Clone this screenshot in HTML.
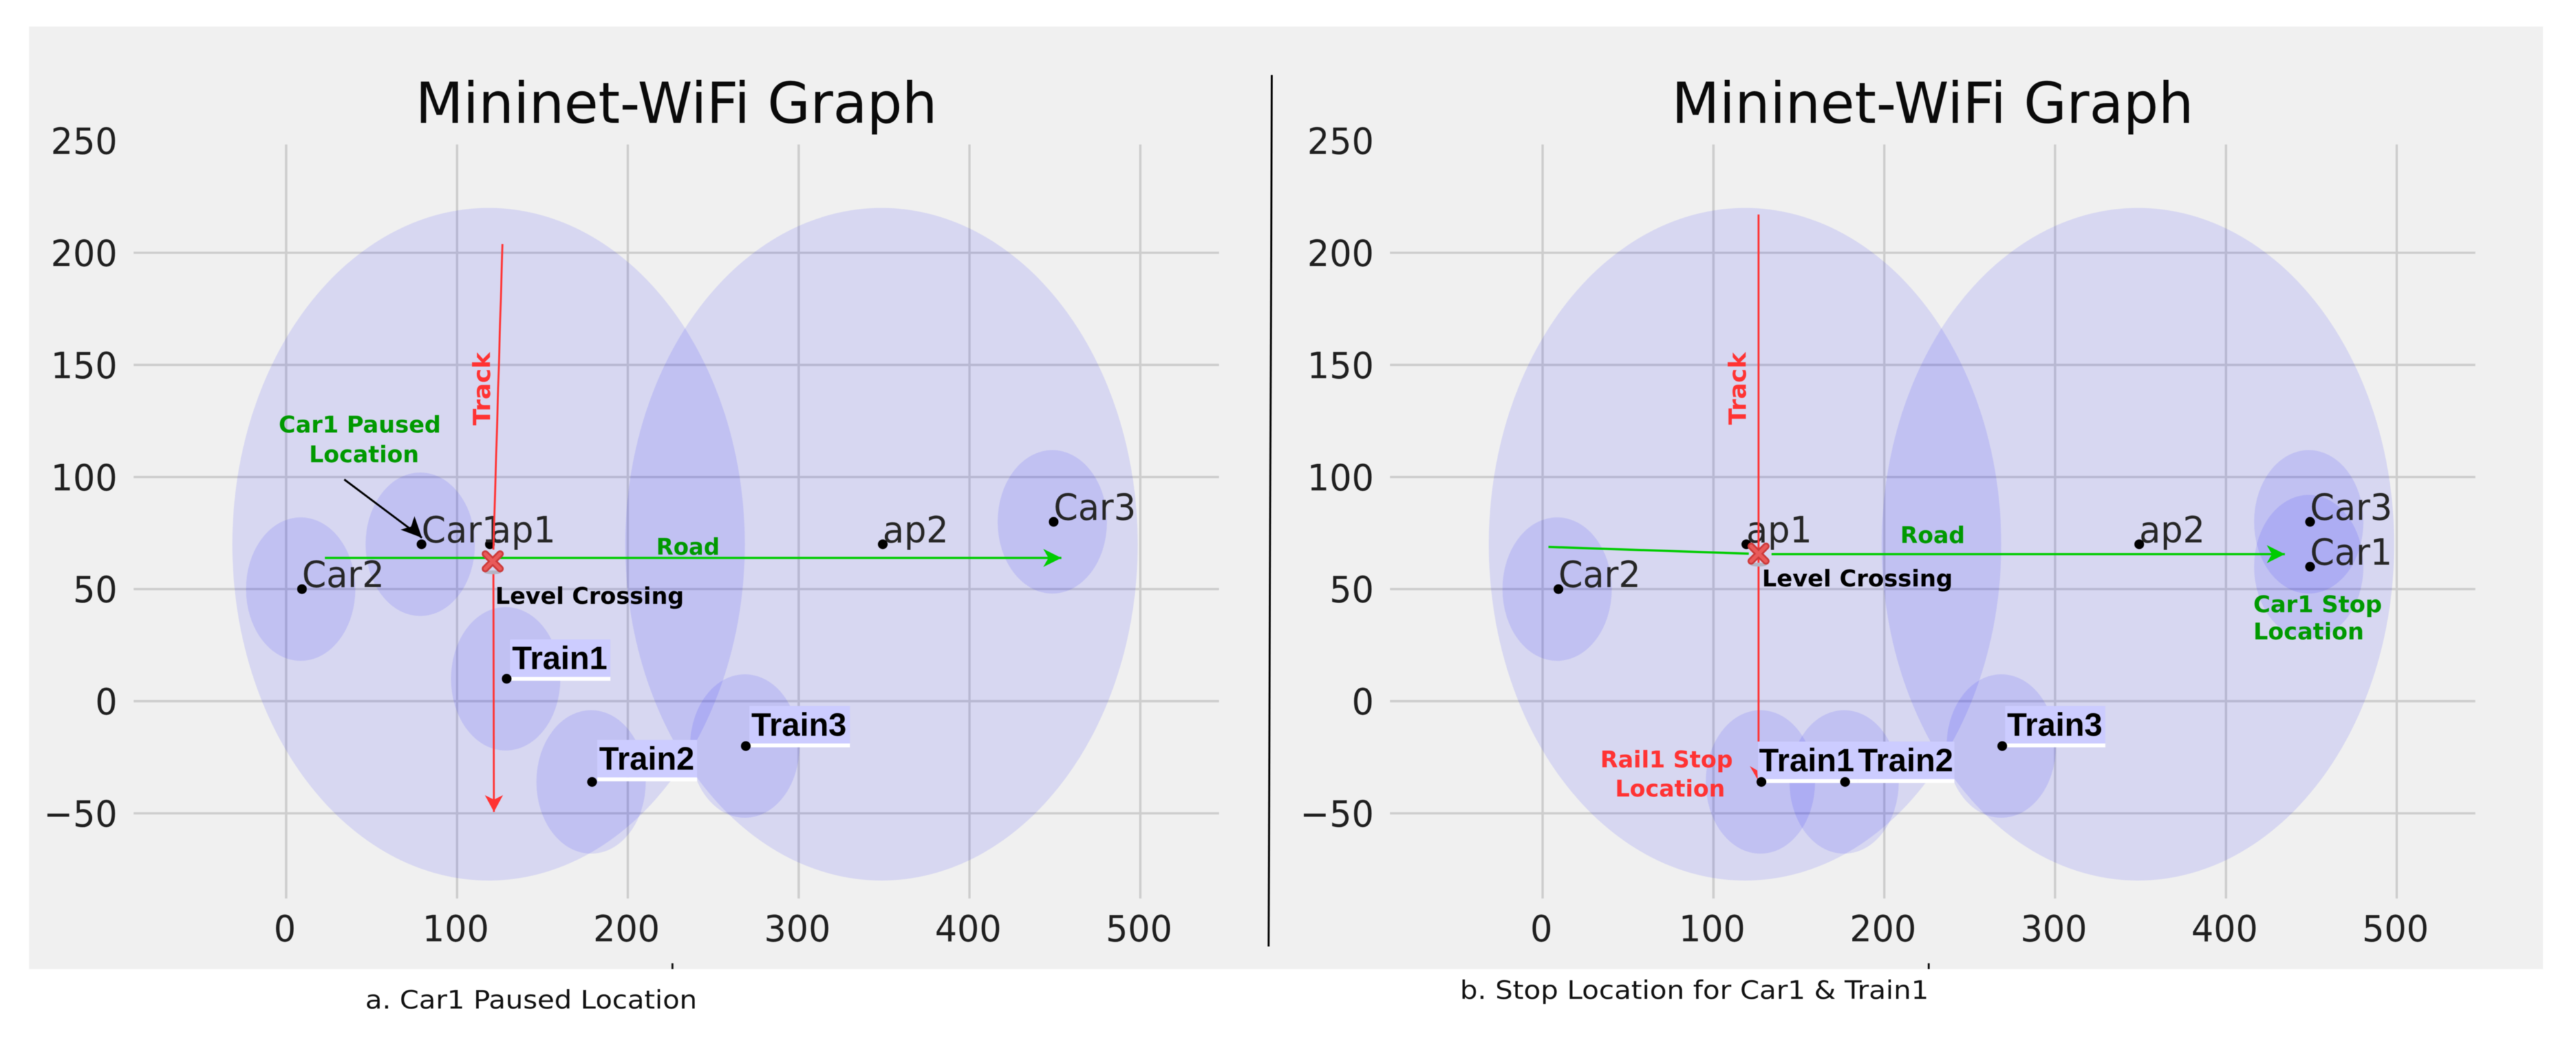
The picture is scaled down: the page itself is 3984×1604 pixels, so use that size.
<!DOCTYPE html>
<html lang="en">
<head>
<meta charset="utf-8">
<title>Mininet-WiFi Graph comparison</title>
<style>
html,body{margin:0;padding:0;background:#fff;width:3984px;height:1604px;overflow:hidden}
svg{display:block;filter:blur(.6px)}
text{font-family:"DejaVu Sans","Liberation Sans",sans-serif}
.ann{font-weight:700;font-size:35.6px}
.green{fill:#009900}
.red{fill:#ff3333}
.blk{fill:#000}
.title{font-size:87px;fill:#0a0a0a;text-anchor:middle}
.cap{font-size:39px;fill:#111}
</style>
</head>
<body>
<svg id="figure" xmlns="http://www.w3.org/2000/svg" width="3984" height="1604" viewBox="0 0 3984 1604">
  <rect x="0" y="0" width="3984" height="1604" fill="#ffffff"/>
  <rect x="45" y="41" width="3888" height="1458" fill="#f0f0f0"/>
  <g id="left-layer"></g>
  <g id="right-layer"></g>

  <g>
    <text class="title" x="1046" y="190" textLength="807" lengthAdjust="spacingAndGlyphs">Mininet-WiFi Graph</text>
    <text class="ann red" style="font-size:36.5px" transform="translate(758 658) rotate(-90)" textLength="113" lengthAdjust="spacingAndGlyphs">Track</text>
    <text class="ann green" x="1015" y="858" textLength="98" lengthAdjust="spacingAndGlyphs">Road</text>
    <text class="ann blk" x="766" y="934" textLength="292" lengthAdjust="spacingAndGlyphs">Level Crossing</text>
    <text class="ann green" x="431" y="669" textLength="251" lengthAdjust="spacingAndGlyphs">Car1 Paused</text>
    <text class="ann green" x="478" y="715" textLength="170" lengthAdjust="spacingAndGlyphs">Location</text>
    <line x1="1040" y1="1490" x2="1040" y2="1499" stroke="#111" stroke-width="3"/>
    <text class="cap" x="565" y="1560" textLength="513" lengthAdjust="spacingAndGlyphs">a. Car1 Paused Location</text>
  </g>

  <g>
    <text class="title" x="2989" y="190" textLength="807" lengthAdjust="spacingAndGlyphs">Mininet-WiFi Graph</text>
    <text class="ann red" style="font-size:36.5px" transform="translate(2700 657) rotate(-90)" textLength="112" lengthAdjust="spacingAndGlyphs">Track</text>
    <text class="ann green" x="2939" y="840" textLength="100" lengthAdjust="spacingAndGlyphs">Road</text>
    <text class="ann blk" x="2725" y="907" textLength="295" lengthAdjust="spacingAndGlyphs">Level Crossing</text>
    <text class="ann green" x="3485" y="947" textLength="199" lengthAdjust="spacingAndGlyphs">Car1 Stop</text>
    <text class="ann green" x="3485" y="989" textLength="171" lengthAdjust="spacingAndGlyphs">Location</text>
    <text class="ann red" x="2475" y="1187" textLength="205" lengthAdjust="spacingAndGlyphs">Rail1 Stop</text>
    <text class="ann red" x="2498" y="1232" textLength="170" lengthAdjust="spacingAndGlyphs">Location</text>
    <line x1="2983" y1="1490" x2="2983" y2="1499" stroke="#111" stroke-width="3"/>
    <text class="cap" x="2258" y="1545" textLength="725" lengthAdjust="spacingAndGlyphs">b. Stop Location for Car1 &amp; Train1</text>
  </g>

  <line x1="1967" y1="116" x2="1962" y2="1464" stroke="#000" stroke-width="3"/>
</svg>

<script>
// Axis ticks
const xTickValues = [0, 100, 200, 300, 400, 500];
const xTickLabels = ['0', '100', '200', '300', '400', '500'];
const yTickValues = [-50, 0, 50, 100, 150, 200, 250];
const yTickLabels = ['\u221250', '0', '50', '100', '150', '200', '250'];
const yGridValues = [-50, 0, 50, 100, 150, 200];
const xDomain = [-89.3, 546];
const yDomain = [-88, 248.3];

// Access points (range circles of radius 150)
const apNames = ['ap1', 'ap2'];
const apX = [120, 350];
const apY = [70, 70];
const apRange = 150;

// Stations and trains (range circles of radius 32)
const stationRange = 32;
const leftCarNames = ['Car1', 'Car2', 'Car3'];
const leftCarX = [80, 10, 450];
const leftCarY = [70, 50, 80];
const leftTrainNames = ['Train1', 'Train2', 'Train3'];
const leftTrainX = [130, 180, 270];
const leftTrainY = [10, -36, -20];

const rightCarNames = ['Car1', 'Car2', 'Car3'];
const rightCarX = [450, 10, 450];
const rightCarY = [60, 50, 80];
const rightTrainNames = ['Train1', 'Train2', 'Train3'];
const rightTrainX = [129, 178, 270];
const rightTrainY = [-36, -36, -20];

// Routes, read in data units
const leftTrackX = [126.6, 121.3, 121.3, 121.6];
const leftTrackY = [203.9, 67.6, 56.7, -49.4];
const leftRoadX = [22.7, 453.8];
const leftRoadY = [63.9, 63.9];
const leftCrossing = [120.9, 62.4];

const rightTrackX = [126.4, 126.4];
const rightTrackY = [217.1, -18];
const rightRoadX = [3.4, 120.7, 134, 434.5];
const rightRoadY = [68.8, 65.8, 65.6, 65.6];
const rightCrossing = [126.4, 65.8];

const pausedArrowX = [34, 79.5];
const pausedArrowY = [98.9, 72.9];
const rail1StopTip = [126, -35.2];

const NS = 'http://www.w3.org/2000/svg';
const X_SCALE = 2.642;
const Y_SCALE = 3.468;
const Y_ZERO = 1084.6;
const TEXT_STRETCH = 1.04;
const sy = v => Y_ZERO - v * Y_SCALE;

function make(tag, attrs, parent, text) {
  const n = document.createElementNS(NS, tag);
  for (const k in attrs) n.setAttribute(k, attrs[k]);
  if (text !== undefined) n.textContent = text;
  parent.appendChild(n);
  return n;
}

function placed(x, y) {
  return 'translate(' + x + ' ' + y + ') scale(1 ' + TEXT_STRETCH + ')';
}

function head(parent, tipX, tipY, ux, uy, len, half, notch, fill, name) {
  const px = -uy, py = ux;
  const pts = [
    [tipX, tipY],
    [tipX - ux * len + px * half, tipY - uy * len + py * half],
    [tipX - ux * (len - notch), tipY - uy * (len - notch)],
    [tipX - ux * len - px * half, tipY - uy * len - py * half]
  ].map(p => p[0].toFixed(1) + ',' + p[1].toFixed(1)).join(' ');
  const el = make('polygon', {points: pts, fill: fill}, parent);
  
  
}

function polylineSegments(parent, xs, ys, sx, color, width, name, gapAt) {
  for (let i = 0; i < xs.length - 1; i++) {
    if (i === gapAt) continue;
    const el = make('line', {x1: sx(xs[i]), y1: sy(ys[i]), x2: sx(xs[i + 1]), y2: sy(ys[i + 1]), stroke: color, 'stroke-width': width}, parent);
    
    
  }
}

function crossingMarker(parent, cx, cy, side) {
  const g = make('g', {transform: 'translate(' + cx + ' ' + cy + ')'}, parent);
  
  
  make('ellipse', {cx: 0, cy: 17, rx: 13, ry: 3, fill: '#b4b4c4'}, g);
  const d = 'M-11.5,-11.5 L11.5,11.5 M11.5,-11.5 L-11.5,11.5';
  make('path', {d: d, stroke: '#cc3a3a', 'stroke-width': 11, 'stroke-linecap': 'round', fill: 'none'}, g);
  make('path', {d: d, stroke: '#e95a5a', 'stroke-width': 5.5, 'stroke-linecap': 'round', fill: 'none'}, g);
}

function drawPanel(layerId, side, x0, carNames, carX, carY, trainNames, trainX, trainY) {
  const layer = document.getElementById(layerId);
  const sx = v => x0 + v * X_SCALE;
  const circleShift = -4;
  const dotShift = -2;

  // grid
  xTickValues.forEach(v => {
    const el = make('line', {x1: sx(v), x2: sx(v), y1: sy(yDomain[1]), y2: sy(yDomain[0]), stroke: '#cdcdcd', 'stroke-width': 3.6}, layer);
    
    
  });
  yGridValues.forEach(v => {
    const el = make('line', {x1: sx(xDomain[0]), x2: sx(xDomain[1]), y1: sy(v), y2: sy(v), stroke: '#cdcdcd', 'stroke-width': 3.6}, layer);
    
    
  });

  // tick labels
  xTickValues.forEach((v, i) => {
    const el = make('text', {transform: placed(sx(v) - 2, 1456), 'text-anchor': 'middle', 'font-size': 54, fill: '#1f1f1f'}, layer, xTickLabels[i]);
    
    
  });
  yTickValues.forEach((v, i) => {
    const el = make('text', {transform: placed(x0 - 261, sy(v) + 20.5), 'text-anchor': 'end', 'font-size': 54, fill: '#1f1f1f'}, layer, yTickLabels[i]);
    
    
  });

  // range circles
  apNames.forEach((n, i) => {
    const el = make('ellipse', {cx: sx(apX[i]) + circleShift, cy: sy(apY[i]), rx: apRange * X_SCALE, ry: apRange * Y_SCALE, fill: 'rgba(0,0,255,0.1)'}, layer);
    
    
  });
  carNames.forEach((n, i) => {
    const el = make('ellipse', {cx: sx(carX[i]) + circleShift, cy: sy(carY[i]), rx: stationRange * X_SCALE, ry: stationRange * Y_SCALE, fill: 'rgba(0,0,255,0.1)'}, layer);
    
    
  });
  trainNames.forEach((n, i) => {
    const el = make('ellipse', {cx: sx(trainX[i]) + circleShift, cy: sy(trainY[i]), rx: stationRange * X_SCALE, ry: stationRange * Y_SCALE, fill: 'rgba(0,0,255,0.1)'}, layer);
    
    
  });

  // node labels and dots (APs and cars)
  const plainNames = apNames.concat(carNames);
  const plainX = apX.concat(carX);
  const plainY = apY.concat(carY);
  plainNames.forEach((n, i) => {
    const lab = make('text', {transform: placed(sx(plainX[i]) + dotShift, sy(plainY[i]) - 3), 'font-size': 54, fill: '#262626'}, layer, n);
    
    
    const dot = make('circle', {cx: sx(plainX[i]) + dotShift, cy: sy(plainY[i]), r: 7.5, fill: '#000'}, layer);
    
    
  });
}

function drawTrains(layerId, side, x0, trainNames, trainX, trainY, boxLayout) {
  const layer = document.getElementById(layerId);
  const sx = v => x0 + v * X_SCALE;
  const dotShift = -2.5;
  trainNames.forEach((n, i) => {
    const px = sx(trainX[i]) + dotShift;
    const py = sy(trainY[i]);
    const b = boxLayout[n];
    const strip = make('rect', {x: px + b.dx, y: py + b.dy + 58, width: b.w, height: 6, fill: '#ffffff'}, layer);
    
    
    const box = make('rect', {x: px + b.dx, y: py + b.dy, width: b.w, height: 58, fill: '#ccccff'}, layer);
    
    
    const lab = make('text', {x: px + b.dx + b.inset, y: py + b.dy + 46, 'font-size': 50, 'font-weight': 700, fill: '#000', style: 'font-family:"Liberation Sans",Arial,sans-serif'}, layer, n);
    
    
  });
  trainNames.forEach((n, i) => {
    const dot = make('circle', {cx: sx(trainX[i]) + dotShift, cy: sy(trainY[i]), r: 7.5, fill: '#000'}, layer);
    
    
  });
}

// Left panel
const LEFT_X0 = 442.6;
const leftX = v => LEFT_X0 + v * X_SCALE;
const leftLayer = document.getElementById('left-layer');
drawPanel('left-layer', 'left', LEFT_X0, leftCarNames, leftCarX, leftCarY, leftTrainNames, leftTrainX, leftTrainY);
polylineSegments(leftLayer, leftTrackX, leftTrackY, leftX, '#ff3333', 3, 'left-track-line', 1);
head(leftLayer, leftX(leftTrackX[3]), sy(leftTrackY[3]), 0, 1, 26, 14, 7, '#ff3333', 'left-track-arrowhead');
polylineSegments(leftLayer, leftRoadX, leftRoadY, leftX, '#00cc00', 3.5, 'left-road-line', -1);
head(leftLayer, leftX(leftRoadX[1]), sy(leftRoadY[1]), 1, 0, 28, 14, 8, '#00cc00', 'left-road-arrowhead');
crossingMarker(leftLayer, leftX(leftCrossing[0]), sy(leftCrossing[1]), 'left');
polylineSegments(leftLayer, pausedArrowX, pausedArrowY, leftX, '#000000', 3, 'car1-paused-arrow-line', -1);
head(leftLayer, leftX(pausedArrowX[1]), sy(pausedArrowY[1]), 0.7, 0.72, 32, 15, 8, '#000000', 'car1-paused-arrowhead');
drawTrains('left-layer', 'left', LEFT_X0, leftTrainNames, leftTrainX, leftTrainY, {
  Train1: {dx: 5.5, dy: -61, w: 155, inset: 3},
  Train2: {dx: 8, dy: -65, w: 154.5, inset: 3},
  Train3: {dx: 5.5, dy: -62, w: 155.6, inset: 3}
});

// Right panel
const RIGHT_X0 = 2385.8;
const rightX = v => RIGHT_X0 + v * X_SCALE;
const rightLayer = document.getElementById('right-layer');
drawPanel('right-layer', 'right', RIGHT_X0, rightCarNames, rightCarX, rightCarY, rightTrainNames, rightTrainX, rightTrainY);
polylineSegments(rightLayer, rightTrackX, rightTrackY, rightX, '#ff3333', 3, 'right-track-line', -1);
polylineSegments(rightLayer, rightRoadX, rightRoadY, rightX, '#00cc00', 3.5, 'right-road-line', 1);
head(rightLayer, rightX(rightRoadX[3]), sy(rightRoadY[3]), 1, 0, 28, 14, 8, '#00cc00', 'right-road-arrowhead');
crossingMarker(rightLayer, rightX(rightCrossing[0]), sy(rightCrossing[1]), 'right');
const wedgeTipX = rightX(rail1StopTip[0]);
const wedgeTipY = sy(rail1StopTip[1]);
const stopWedge = make('polygon', {points: wedgeTipX + ',' + wedgeTipY + ' ' + (wedgeTipX - 12.4) + ',' + (wedgeTipY - 21.7) + ' ' + (wedgeTipX - 1) + ',' + (wedgeTipY - 15), fill: '#ff3333'}, rightLayer);


drawTrains('right-layer', 'right', RIGHT_X0, rightTrainNames, rightTrainX, rightTrainY, {
  Train1: {dx: -5.1, dy: -62.4, w: 154.5, inset: 1.5},
  Train2: {dx: 20, dy: -62.4, w: 149, inset: 0},
  Train3: {dx: 4.5, dy: -62, w: 155, inset: 3}
});
</script>
</body>
</html>
